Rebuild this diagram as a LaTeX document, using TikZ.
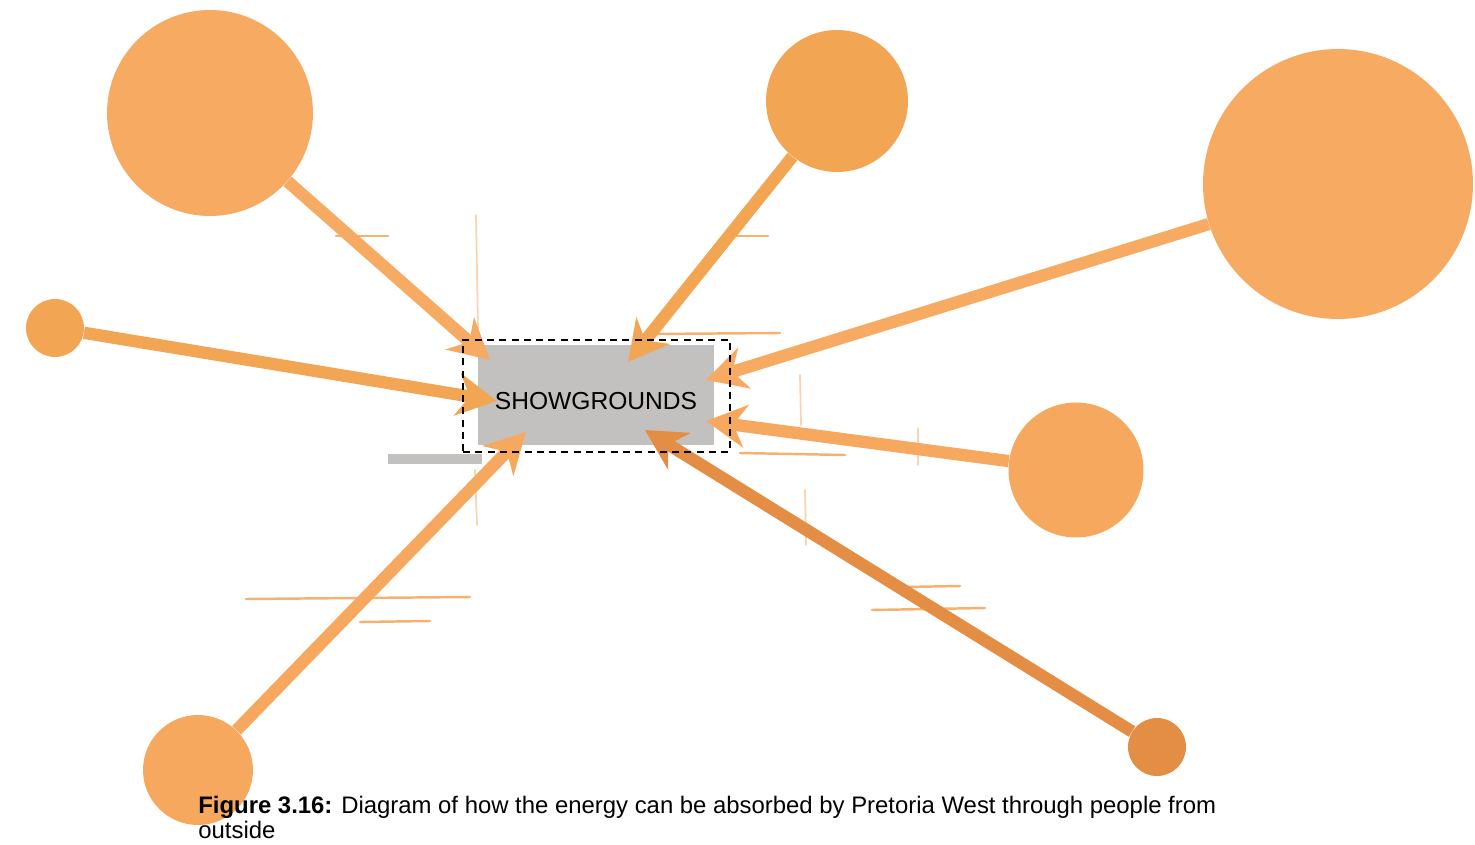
\documentclass[tikz,border=0pt]{standalone}
\usepackage{fontspec}
\setmainfont{Liberation Sans}
\usetikzlibrary{arrows.meta,positioning,calc}
\definecolor{hubgray}{RGB}{194,193,192}
\definecolor{flowA}{RGB}{247,170,98}
\definecolor{flowB}{RGB}{242,166,84}
\definecolor{flowC}{RGB}{246,168,94}
\definecolor{flowD}{RGB}{227,141,69}
\definecolor{strokeO}{RGB}{246,176,112}
\tikzset{
  town/.style={circle,draw=none,inner sep=0pt},
  flow/.style={line width=7pt,-{Stealth[length=0.8cm,width=0.85cm,inset=0.25cm]}},
  stray/.style={line width=1.4pt,strokeO,line cap=round},
  faint/.style={line width=1pt,strokeO!55,line cap=round},
}
\begin{document}
\begin{tikzpicture}[x=0.02cm,y=-0.02cm]
  \useasboundingbox (0,0) rectangle (1475,845);
  % hub
  \fill[hubgray] (388,454) rectangle (482,464);
  \node[fill=hubgray,minimum width=4.74cm,minimum height=2cm,inner sep=0pt] (hub) at (596,395) {};
  % towns
  \node[town,fill=flowA,minimum size=4.12cm] (tl) at (210,113) {};
  \node[town,fill=flowB,minimum size=2.84cm] (tm) at (837,101) {};
  \node[town,fill=flowA,minimum size=5.4cm] (rb) at (1338,184) {};
  \node[town,fill=flowB,minimum size=1.16cm] (ls) at (55,328) {};
  \node[town,fill=flowC,minimum size=2.7cm] (rm) at (1076,470) {};
  \node[town,fill=flowC,minimum size=2.2cm] (bl) at (198,770) {};
  \node[town,fill=flowD,minimum size=1.16cm] (br) at (1157,747) {};
  % arrow tips on the hub
  \coordinate (tTL) at (490,360);
  \coordinate (tL) at (497,401);
  \coordinate (tTM) at (628,362);
  \coordinate (tRB) at (706,380);
  \coordinate (tRM) at (706,421);
  \coordinate (tBL) at (526,432);
  \coordinate (tBR) at (645,430);
  % stray strokes
  \draw[stray] (246,599) -- (470,597);
  \draw[stray] (360,622) -- (430,621);
  \draw[stray] (336,236) -- (388,236);
  \draw[stray] (725,236) -- (768,236);
  \draw[stray] (872,610) -- (985,608);
  \draw[stray] (905,587) -- (960,586);
  \draw[stray] (740,453) -- (845,455);
  \draw[stray] (650,334) -- (780,333);
  \draw[faint] (476,215) -- (478,330);
  \draw[faint] (475,470) -- (477,525);
  \draw[faint] (800,375) -- (801,425);
  \draw[faint] (805,490) -- (806,545);
  \draw[faint] (918,428) -- (918,465);
  % flows into the hub
  \draw[flow,flowA] (tl) -- (tTL);
  \draw[flow,flowB] (ls) -- (tL);
  \draw[flow,flowB] (tm) -- (tTM);
  \draw[flow,flowA] (rb) -- (tRB);
  \draw[flow,flowC] (rm) -- (tRM);
  \draw[flow,flowC] (bl) -- (tBL);
  \draw[flow,flowD] (br) -- (tBR);
  % label and frame
  \node[font=\fontsize{14}{16}\selectfont] (sg) at (596,401) {SHOWGROUNDS};
  \node[draw,dashed,line width=1.6pt,dash pattern=on 4pt off 3pt,minimum width=5.34cm,minimum height=2.24cm] (frame) at (596.5,396) {};
  % caption
  \node[anchor=north west,align=left,inner sep=0pt,font=\fontsize{13.6}{14.3}\selectfont] (cap) at (198,796)
    {\textbf{Figure 3.16:} Diagram of how the energy can be absorbed by Pretoria West through people from\\outside};
\end{tikzpicture}
\end{document}
